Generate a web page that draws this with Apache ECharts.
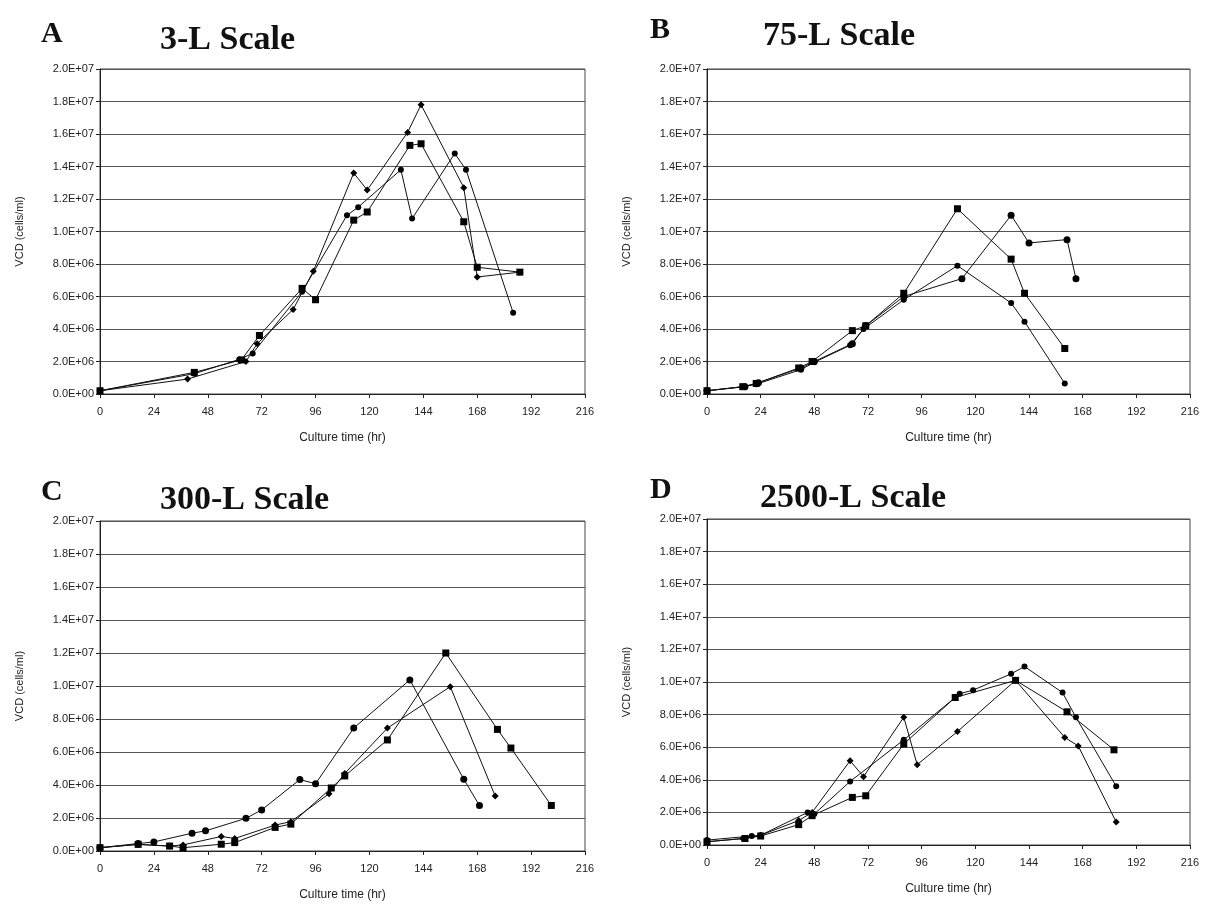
<!DOCTYPE html>
<html>
<head>
<meta charset="utf-8">
<script src="https://cdn.jsdelivr.net/npm/echarts@6/dist/echarts.min.js"></script>
<style>
  html, body { margin: 0; padding: 0; background: #fff; }
  #main { width: 1218px; height: 906px; }
</style>
</head>
<body>
<div id="main"></div>
<script>
// x = culture time (hr), y = VCD (cells/ml)
var xTicks = [0, 24, 48, 72, 96, 120, 144, 168, 192, 216];

// A: 3-L scale
var aDiaT = [0, 39, 65, 70, 86, 95, 113, 119, 137, 143, 162, 168, 187];
var aDiaV = [2e5, 0.92e6, 2.0e6, 3.1e6, 5.2e6, 7.55e6, 13.6e6, 12.55e6, 16.1e6, 17.8e6, 12.7e6, 7.2e6, 7.5e6];
var aSqT = [0, 42, 63, 71, 90, 96, 113, 119, 138, 143, 162, 168, 187];
var aSqV = [2e5, 1.33e6, 2.1e6, 3.6e6, 6.5e6, 5.8e6, 10.7e6, 11.2e6, 15.3e6, 15.4e6, 10.6e6, 7.8e6, 7.5e6];
var aCirT = [0, 42, 62, 68, 90, 110, 115, 134, 139, 158, 163, 184];
var aCirV = [2e5, 1.25e6, 2.13e6, 2.5e6, 6.3e6, 11.0e6, 11.5e6, 13.8e6, 10.8e6, 14.8e6, 13.8e6, 5.0e6];

// B: 75-L scale
var bSqT = [0, 16, 22, 41, 47, 65, 71, 88, 112, 136, 142, 160];
var bSqV = [2e5, 0.45e6, 0.65e6, 1.6e6, 2.0e6, 3.9e6, 4.2e6, 6.2e6, 11.4e6, 8.3e6, 6.2e6, 2.8e6];
var bCirT = [0, 16, 22, 42, 48, 64, 70, 88, 112, 136, 142, 160];
var bCirV = [2e5, 0.45e6, 0.6e6, 1.5e6, 1.95e6, 3.0e6, 4.0e6, 5.8e6, 7.9e6, 5.6e6, 4.45e6, 0.65e6];
var bDiaT = [0, 17, 23, 42, 48, 65, 71, 88, 114, 136, 144, 161, 165];
var bDiaV = [2e5, 0.45e6, 0.7e6, 1.6e6, 2.0e6, 3.1e6, 4.2e6, 6.0e6, 7.1e6, 11.0e6, 9.3e6, 9.5e6, 7.1e6];

// C: 300-L scale
var cCirT = [0, 17, 24, 41, 47, 65, 72, 89, 96, 113, 138, 162, 169];
var cCirV = [2e5, 0.45e6, 0.55e6, 1.08e6, 1.22e6, 1.98e6, 2.49e6, 4.33e6, 4.08e6, 7.45e6, 10.37e6, 4.35e6, 2.76e6];
var cDiaT = [0, 17, 31, 37, 54, 60, 78, 85, 102, 109, 128, 156, 176];
var cDiaV = [2e5, 0.4e6, 0.3e6, 0.37e6, 0.88e6, 0.76e6, 1.57e6, 1.78e6, 3.47e6, 4.7e6, 7.45e6, 9.96e6, 3.33e6];
var cSqT = [0, 17, 31, 37, 54, 60, 78, 85, 103, 109, 128, 154, 177, 183, 201];
var cSqV = [2e5, 0.4e6, 0.3e6, 0.2e6, 0.41e6, 0.51e6, 1.43e6, 1.63e6, 3.82e6, 4.55e6, 6.73e6, 12.0e6, 7.37e6, 6.24e6, 2.76e6];

// D: 2500-L scale
var dDiaT = [0, 16, 24, 41, 47, 64, 70, 88, 94, 112, 138, 160, 166, 183];
var dDiaV = [2e5, 0.4e6, 0.6e6, 1.5e6, 2.0e6, 5.17e6, 4.19e6, 7.84e6, 4.93e6, 6.96e6, 10.1e6, 6.6e6, 6.08e6, 1.41e6];
var dSqT = [0, 17, 24, 41, 47, 65, 71, 88, 111, 138, 161, 182];
var dSqV = [2e5, 0.4e6, 0.55e6, 1.25e6, 1.8e6, 2.92e6, 3.02e6, 6.2e6, 9.05e6, 10.1e6, 8.17e6, 5.84e6];
var dCirT = [0, 20, 24, 45, 48, 64, 88, 113, 119, 136, 142, 159, 165, 183];
var dCirV = [3e5, 0.55e6, 0.6e6, 2.0e6, 1.9e6, 3.9e6, 6.45e6, 9.28e6, 9.5e6, 10.5e6, 10.95e6, 9.35e6, 7.83e6, 3.6e6];

var panelLetters = ['A', 'B', 'C', 'D'];
var panelTitles = ['3-L Scale', '75-L Scale', '300-L Scale', '2500-L Scale'];

var chart = echarts.init(document.getElementById('main'));

function sci(v) {
    if (v === 0) return '0.0E+00';
    var e = Math.floor(Math.log10(v) + 1e-9);
    var m = v / Math.pow(10, e);
    return m.toFixed(1) + 'E+' + (e < 10 ? '0' : '') + e;
}

function zip(t, v) {
    return t.map(function (x, i) { return [x, v[i]]; });
}

var grids = [
    {left: 100, top: 69, width: 485, height: 325},
    {left: 707, top: 69, width: 483, height: 325},
    {left: 100, top: 521, width: 485, height: 330},
    {left: 707, top: 519, width: 483, height: 326}
];

var labelFont = {fontFamily: 'Liberation Sans', fontSize: 11, color: '#222'};

var xAxes = [], yAxes = [];
grids.forEach(function (g, i) {
    g.show = true;
    g.borderColor = '#444';
    g.borderWidth = 1;
    xAxes.push({
        type: 'value', gridIndex: i, min: 0, max: 216, interval: 24,
        name: 'Culture time (hr)', nameLocation: 'middle', nameGap: 38,
        nameTextStyle: {fontFamily: 'Liberation Sans', fontSize: 12, color: '#222'},
        axisLine: {show: true, lineStyle: {color: '#222'}},
        axisTick: {show: true, length: 4, lineStyle: {color: '#222'}},
        axisLabel: Object.assign({margin: 12}, labelFont),
        splitLine: {show: false}
    });
    yAxes.push({
        type: 'value', gridIndex: i, min: 0, max: 2e7, interval: 2e6,
        name: 'VCD (cells/ml)', nameLocation: 'middle', nameGap: 75,
        nameTextStyle: {fontFamily: 'Liberation Sans', fontSize: 11, color: '#222'},
        axisLine: {show: true, lineStyle: {color: '#222'}},
        axisTick: {show: true, length: 4, lineStyle: {color: '#222'}},
        axisLabel: Object.assign({margin: 6, formatter: sci}, labelFont),
        splitLine: {show: true, lineStyle: {color: '#555', width: 1}}
    });
});

function mk(t, v, sym, size, idx) {
    return {
        type: 'line', xAxisIndex: idx, yAxisIndex: idx,
        data: zip(t, v), symbol: sym, symbolSize: size,
        showSymbol: true, animation: false,
        lineStyle: {color: '#111', width: 1},
        itemStyle: {color: '#000'}
    };
}

var series = [
    mk(aDiaT, aDiaV, 'diamond', 7, 0),
    mk(aSqT, aSqV, 'rect', 7, 0),
    mk(aCirT, aCirV, 'circle', 6, 0),
    mk(bSqT, bSqV, 'rect', 7, 1),
    mk(bCirT, bCirV, 'circle', 6, 1),
    mk(bDiaT, bDiaV, 'circle', 7, 1),
    mk(cCirT, cCirV, 'circle', 7, 2),
    mk(cDiaT, cDiaV, 'diamond', 7, 2),
    mk(cSqT, cSqV, 'rect', 7, 2),
    mk(dDiaT, dDiaV, 'diamond', 7, 3),
    mk(dSqT, dSqV, 'rect', 7, 3),
    mk(dCirT, dCirV, 'circle', 6, 3)
];

// panel letters and headings
var letterPos = [[36, 14], [645, 10], [36, 472], [645, 470]];
var headPos = [[155, 18], [758, 14], [155, 478], [755, 476]];
var titles = [];
for (var i = 0; i < 4; i++) {
    titles.push({
        text: panelLetters[i], left: letterPos[i][0], top: letterPos[i][1],
        textStyle: {fontFamily: 'Liberation Serif', fontWeight: 'bold', fontSize: 30, color: '#111'}
    });
    titles.push({
        text: panelTitles[i], left: headPos[i][0], top: headPos[i][1],
        textStyle: {fontFamily: 'Liberation Serif', fontWeight: 'bold', fontSize: 34, color: '#111'}
    });
}

chart.setOption({
    backgroundColor: '#fff',
    animation: false,
    title: titles,
    grid: grids,
    xAxis: xAxes,
    yAxis: yAxes,
    series: series
});
</script>
</body>
</html>
